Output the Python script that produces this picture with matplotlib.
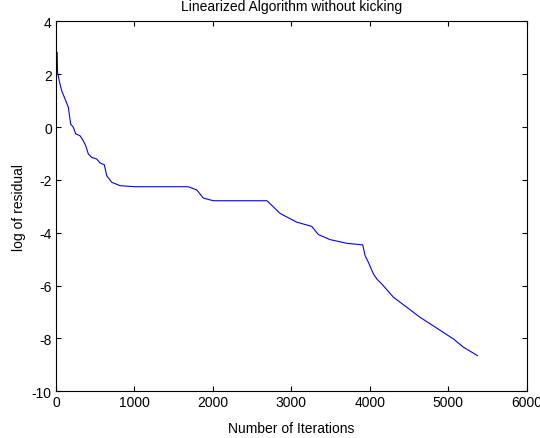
import matplotlib
matplotlib.use("Agg")
import matplotlib.pyplot as plt

plt.rcParams['font.family'] = ['Liberation Sans', 'DejaVu Sans']
plt.rcParams['axes.unicode_minus'] = False

iterations = [0, 15, 20, 45, 73, 115, 157, 187, 221, 251, 306, 348, 379, 412, 455,
              519, 561, 616, 646, 710, 816, 1007, 1687, 1794, 1878, 2006, 2690,
              2856, 3069, 3260, 3344, 3493, 3706, 3910, 3940, 3982, 4046, 4089,
              4153, 4301, 4556, 4641, 5066, 5193, 5372]
log_residual = [2.83, 2.83, 2.07, 1.70, 1.37, 1.06, 0.75, 0.11, -0.01, -0.26, -0.33,
                -0.52, -0.71, -1.02, -1.15, -1.21, -1.36, -1.43, -1.84, -2.09, -2.22,
                -2.26, -2.26, -2.38, -2.69, -2.79, -2.79, -3.27, -3.60, -3.76, -4.07,
                -4.26, -4.40, -4.46, -4.87, -5.12, -5.56, -5.75, -5.94, -6.44, -7.01,
                -7.20, -8.02, -8.33, -8.65]

title = "Linearized Algorithm without kicking"
xlabel = "Number of Iterations"
ylabel = "log of residual"
xticks = [0, 1000, 2000, 3000, 4000, 5000, 6000]
yticks = [-10, -8, -6, -4, -2, 0, 2, 4]

fig = plt.figure(figsize=(5.40, 4.39), dpi=100)
ax = fig.add_axes([56/540, 1-392.3/439, (526.7-56)/540, (392.3-22.3)/439])
ax.plot(iterations, log_residual, color='#0000ff', lw=0.8)
ax.set_xlim(0, 6000)
ax.set_ylim(-10, 4)
ax.set_xticks(xticks)
ax.set_yticks(yticks)
ax.tick_params(direction='in', top=True, right=True, length=3.5, width=0.8,
               labelsize=10, pad=3, colors='black')
for s in ax.spines.values():
    s.set_linewidth(0.8)
ax.set_title(title, fontsize=10, pad=8)
ax.set_xlabel(xlabel, fontsize=10, labelpad=8)
ax.set_ylabel(ylabel, fontsize=10, labelpad=4)
fig.savefig("out.png", dpi=100)
